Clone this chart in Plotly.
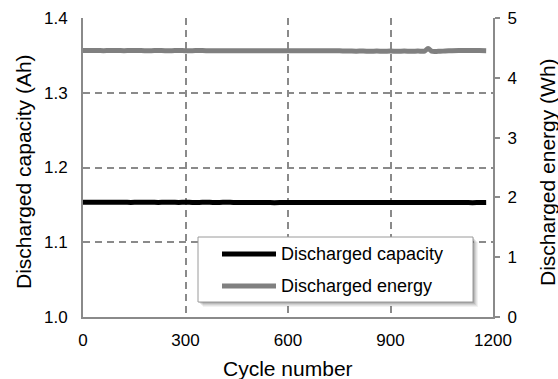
import plotly.graph_objects as go

# Cycling data: discharged capacity (Ah, left axis) and energy (Wh, right axis)
cycles = [0, 20, 40, 60, 80, 100, 120, 140, 160, 180,
          200, 220, 240, 260, 280, 300, 320, 340, 360, 380,
          400, 420, 440, 460, 480, 500, 520, 540, 560, 580,
          600, 620, 640, 660, 680, 700, 720, 740, 760, 780,
          800, 820, 840, 860, 880, 900, 920, 940, 960, 980,
          1000, 1010, 1020, 1040, 1060, 1080, 1100, 1120, 1140, 1160, 1180]

capacity_ah = [1.1535, 1.1534, 1.1534, 1.1535, 1.1534, 1.1534, 1.1534, 1.1533, 1.1534, 1.1534,
               1.1534, 1.1533, 1.1534, 1.1534, 1.1533, 1.1534, 1.1533, 1.1533, 1.1534, 1.1533,
               1.1533, 1.1534, 1.1533, 1.1533, 1.1533, 1.1533, 1.1532, 1.1531, 1.1530, 1.1531,
               1.1532, 1.1532, 1.1533, 1.1532, 1.1532, 1.1532, 1.1533, 1.1532, 1.1532, 1.1532,
               1.1532, 1.1533, 1.1532, 1.1532, 1.1532, 1.1532, 1.1532, 1.1533, 1.1532, 1.1532,
               1.1532, 1.1532, 1.1532, 1.1532, 1.1533, 1.1532, 1.1532, 1.1531, 1.1530, 1.1531, 1.1532]

energy_wh = [4.455, 4.455, 4.455, 4.454, 4.455, 4.455, 4.454, 4.455, 4.455, 4.454,
             4.454, 4.455, 4.454, 4.454, 4.455, 4.454, 4.454, 4.455, 4.454, 4.454,
             4.454, 4.453, 4.454, 4.454, 4.453, 4.454, 4.453, 4.453, 4.454, 4.453,
             4.453, 4.453, 4.454, 4.453, 4.453, 4.452, 4.453, 4.452, 4.449, 4.447,
             4.445, 4.448, 4.444, 4.447, 4.444, 4.448, 4.443, 4.447, 4.444, 4.447,
             4.448, 4.490, 4.446, 4.443, 4.448, 4.453, 4.456, 4.456, 4.455, 4.455, 4.453]

x_ticks = [0, 300, 600, 900, 1200]
cap_ticks = [1.0, 1.1, 1.2, 1.3, 1.4]
energy_ticks = [0, 1, 2, 3, 4, 5]

series_names = ["Discharged capacity", "Discharged energy"]
series_colors = ["#000000", "#808080"]

W, H = 558, 379
ML, MR, MT, MB = 83, 65, 18, 62
PW, PH = W - ML - MR, H - MT - MB
FONT = "Liberation Sans, Arial, sans-serif"
AXIS_GRAY = "#8a8a8a"
GRID_DASH = "7px,5px"


def px_x(p):
    return (p - ML) / PW


def px_y(p):
    return (H - MB - p) / PH


fig = go.Figure()
fig.add_trace(go.Scatter(x=cycles, y=capacity_ah, mode="lines", name=series_names[0],
                         line=dict(color=series_colors[0], width=5, shape="spline"), yaxis="y"))
fig.add_trace(go.Scatter(x=cycles, y=energy_wh, mode="lines", name=series_names[1],
                         line=dict(color=series_colors[1], width=5, shape="spline"), yaxis="y2"))

# Legend box with a soft drop shadow, drawn as shapes
lx0, lx1, ly0, ly1 = 198, 473, 237, 302
shapes = []
for k, a in [(5, 0.05), (4, 0.06), (3, 0.08), (2, 0.10), (1, 0.12)]:
    shapes.append(dict(type="rect", xref="paper", yref="paper", layer="above",
                       x0=px_x(lx0 + k), x1=px_x(lx1 + k), y0=px_y(ly0 + k), y1=px_y(ly1 + k),
                       line=dict(width=0), fillcolor=f"rgba(0,0,0,{a})"))
shapes.append(dict(type="rect", xref="paper", yref="paper", layer="above",
                   x0=px_x(lx0), x1=px_x(lx1), y0=px_y(ly0), y1=px_y(ly1),
                   line=dict(color="#9a9a9a", width=1), fillcolor="white"))

annotations = []
for i, (name, color) in enumerate(zip(series_names, series_colors)):
    yy = 254 + 32 * i
    shapes.append(dict(type="line", xref="paper", yref="paper", layer="above",
                       x0=px_x(222), x1=px_x(276), y0=px_y(yy), y1=px_y(yy),
                       line=dict(color=color, width=5)))
    annotations.append(dict(text=name, xref="paper", yref="paper", x=px_x(279), y=px_y(yy),
                            xanchor="left", yanchor="middle", showarrow=False,
                            font=dict(family=FONT, size=18, color="#000")))

# Axis titles
annotations.append(dict(text="Cycle number", xref="paper", yref="paper",
                        x=px_x(288), y=px_y(369), xanchor="center", yanchor="middle",
                        showarrow=False, font=dict(family=FONT, size=21, color="#000")))
annotations.append(dict(text="Discharged capacity (Ah)", xref="paper", yref="paper",
                        x=px_x(23), y=px_y(172), xanchor="center", yanchor="middle",
                        textangle=-90, showarrow=False,
                        font=dict(family=FONT, size=21, color="#000")))
annotations.append(dict(text="Discharged energy (Wh)", xref="paper", yref="paper",
                        x=px_x(547), y=px_y(172), xanchor="center", yanchor="middle",
                        textangle=-90, showarrow=False,
                        font=dict(family=FONT, size=21, color="#000")))

fig.update_layout(
    width=W, height=H,
    margin=dict(l=ML, r=MR, t=MT, b=MB, autoexpand=False),
    paper_bgcolor="white", plot_bgcolor="white",
    showlegend=False,
    font=dict(family=FONT, size=17, color="#000"),
    xaxis=dict(range=[0, 1200], tickvals=x_ticks, ticktext=[str(v) for v in x_ticks],
               showgrid=True, gridcolor=AXIS_GRAY, gridwidth=1.5, griddash=GRID_DASH,
               showline=True, linecolor=AXIS_GRAY, linewidth=2, ticks="",
               ticklabelstandoff=7, zeroline=False),
    yaxis=dict(range=[1.0, 1.4], tickvals=cap_ticks, ticktext=[f"{v:.1f}" for v in cap_ticks],
               showgrid=True, gridcolor=AXIS_GRAY, gridwidth=1.5, griddash=GRID_DASH,
               showline=True, linecolor=AXIS_GRAY, linewidth=2, ticks="",
               ticklabelstandoff=10, zeroline=False),
    yaxis2=dict(range=[0, 5], tickvals=energy_ticks, ticktext=[str(v) for v in energy_ticks],
                overlaying="y", side="right", showgrid=False,
                showline=True, linecolor=AXIS_GRAY, linewidth=2,
                ticks="outside", ticklen=5, tickwidth=1.5, tickcolor=AXIS_GRAY,
                ticklabelstandoff=4, zeroline=False),
    shapes=shapes,
    annotations=annotations,
)

fig.write_html("out.html")
